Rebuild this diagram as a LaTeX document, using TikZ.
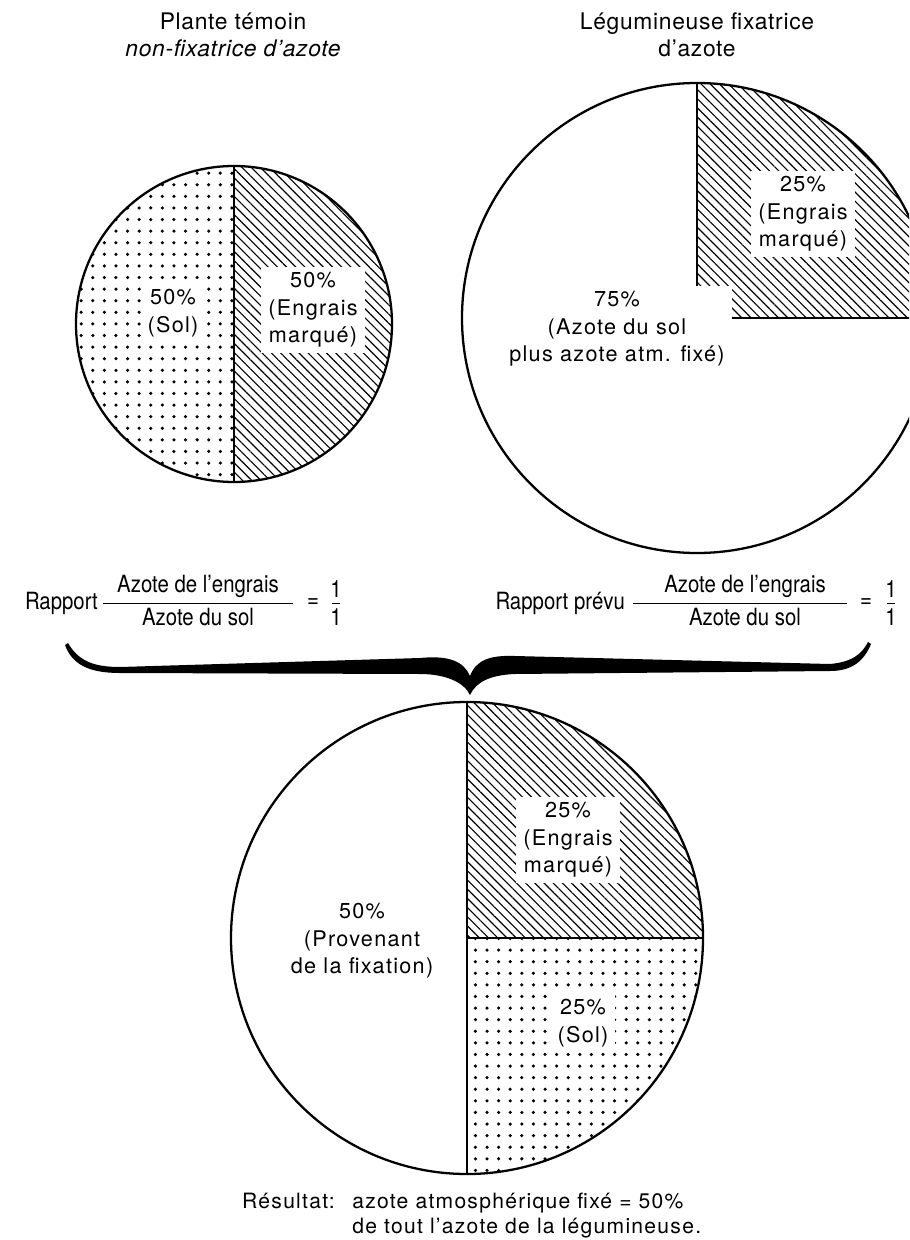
\documentclass[tikz,border=0pt]{standalone}
\usepackage{fontspec}
\setmainfont{TeX Gyre Heros}
\newfontfamily\narrowfont[FakeStretch=0.86]{TeX Gyre Heros}
\newfontfamily\piefont[LetterSpace=6]{TeX Gyre Heros}
\newfontfamily\titlefont[LetterSpace=3]{TeX Gyre Heros}
\usetikzlibrary{patterns.meta}

\tikzset{
  rim/.style={line width=1.3pt},
  cut/.style={line width=0.9pt},
  hatch/.style={pattern={Lines[angle=-45,distance=3.7pt,line width=0.65pt]}},
  stipple/.style={pattern={Dots[distance=6.6pt,radius=1pt]}},
  share/.style={font=\piefont\fontsize{12.3}{15.6}\selectfont, align=center, fill=white, inner xsep=4pt, inner ysep=3pt},
  title/.style={font=\titlefont\fontsize{13}{15.5}\selectfont, align=center},
  ratio/.style={font=\narrowfont\fontsize{13.5}{16}\selectfont, inner sep=1pt},
  result/.style={font=\piefont\fontsize{12}{15}\selectfont, inner sep=0pt},
}

\begin{document}
\begin{tikzpicture}[x=0.02cm,y=-0.02cm]
\useasboundingbox (0,0) rectangle (909,1240);
\clip (0,0) rectangle (909,1240);

% titles
\node[title] (ttemoin) at (233,35) {Plante témoin\\\itshape non-fixatrice d’azote};
\node[title] (tlegume) at (697,35) {Légumineuse fixatrice\\d’azote};

% plante temoin
\fill[stipple] (234,324) -- (234,166) arc[start angle=270,end angle=90,radius=158] -- cycle;
\fill[hatch] (234,324) -- (234,166) arc[start angle=270,end angle=450,radius=158] -- cycle;
\draw[rim] (234,324) circle[radius=158];
\draw[cut] (234,166) -- (234,482);
\node[share] (solA) at (173,313) {50\%\\(Sol)};
\node[share] (engA) at (313,310) {50\%\\(Engrais\\marqué)};

% legumineuse
\fill[hatch] (697,318) -- (697,83) arc[start angle=270,end angle=360,radius=235] -- cycle;
\draw[rim] (697,318) circle[radius=235];
\draw[cut] (697,83) -- (697,318) -- (932,318);
\node[share] (engB) at (803,214) {25\%\\(Engrais\\marqué)};
\node[share] (fixB) at (617,329) {75\%\\(Azote du sol\\plus azote atm. fixé)};

% rapports
\node[ratio, anchor=east] (rapA) at (100,603) {Rapport};
\node[ratio, above=2pt] (numA) at (198,603) {Azote de l’engrais};
\node[ratio, below=2pt] (denA) at (198,603) {Azote du sol};
\draw (103,603) -- (293,603);
\node[ratio] (eqA) at (313,603) {=};
\node[ratio, above=2pt] (unA) at (336,603) {1};
\node[ratio, below=2pt] (unB) at (336,603) {1};
\draw (332,603) -- (340,603);

\node[ratio, anchor=east] (rapB) at (627,603) {Rapport prévu};
\node[ratio, above=2pt] (numB) at (745,603) {Azote de l’engrais};
\node[ratio, below=2pt] (denB) at (745,603) {Azote du sol};
\draw (633,603) -- (847,603);
\node[ratio] (eqB) at (866,603) {=};
\node[ratio, above=2pt] (unC) at (891,603) {1};
\node[ratio, below=2pt] (unD) at (891,603) {1};
\draw (887,603) -- (895,603);

% accolade
\fill (68,643) .. controls (78,660) and (92,667) .. (120,667)
  -- (420,658) .. controls (450,655) and (464,662) .. (470,676)
  .. controls (476,660) and (490,655) .. (515,656)
  -- (830,664) .. controls (852,662) and (862,654) .. (868,642)
  -- (871,644) .. controls (864,661) and (852,671) .. (830,671)
  -- (515,674) .. controls (490,675) and (476,682) .. (470,695)
  .. controls (464,682) and (445,674) .. (420,674)
  -- (120,673) .. controls (88,673) and (72,664) .. (65,645) -- cycle;

% resultat
\fill[hatch] (467,938) -- (467,702) arc[start angle=270,end angle=360,radius=236] -- cycle;
\fill[stipple] (467,938) -- (703,938) arc[start angle=0,end angle=90,radius=236] -- cycle;
\draw[rim] (467,938) circle[radius=236];
\draw[cut] (467,702) -- (467,1174);
\draw[cut] (467,938) -- (703,938);
\node[share] (engC) at (568,840) {25\%\\(Engrais\\marqué)};
\node[share] (fixC) at (362,941) {50\%\\(Provenant\\de la fixation)};
\node[share] (solC) at (583,1023) {25\%\\(Sol)};

\node[result, anchor=base east] (resA) at (335,1208) {Résultat:};
\node[result, anchor=base west] (resB) at (352,1208) {azote atmosphérique fixé = 50\%};
\node[result, anchor=base west] (resC) at (352,1233) {de tout l’azote de la légumineuse.};
\end{tikzpicture}
\end{document}
